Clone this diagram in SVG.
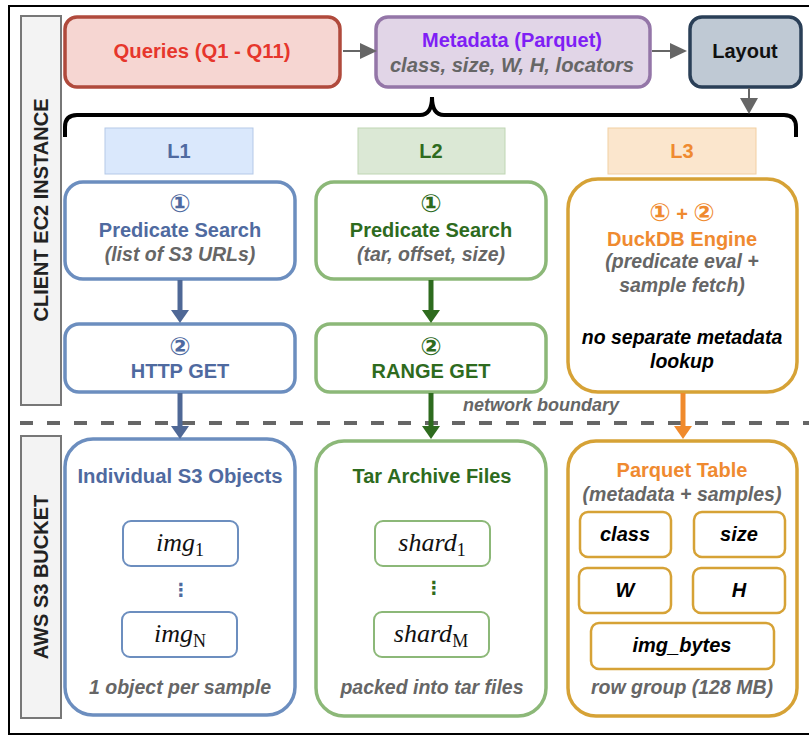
<svg xmlns="http://www.w3.org/2000/svg" width="809" height="735" viewBox="0 0 809 735">
<style>
text{font-family:"Liberation Sans",Arial,"DejaVu Sans",sans-serif;font-weight:bold;text-anchor:middle}
.it{font-style:italic}
.gray{fill:#666}
.blue{fill:#4f6aa0}
.green{fill:#2e6b1e}
.orange{fill:#ef8a30}
.num{font-family:"DejaVu Sans",sans-serif;font-size:25px;font-weight:bold}
.math{font-family:"Liberation Serif","DejaVu Serif",serif;font-weight:normal;font-style:italic;font-size:26px;fill:#111}
.sub{font-size:18px;font-style:normal}
.side{fill:#f3f3f3;stroke:#777;stroke-width:2}
.bl{fill:#fff;stroke:#6c8ebf;stroke-width:3.5}
.gr{fill:#fff;stroke:#8cb878;stroke-width:3.5}
.or{fill:#fff;stroke:#d6a236;stroke-width:3.5}
.blS{fill:#fff;stroke:#6c8ebf;stroke-width:2}
.grS{fill:#fff;stroke:#8cb878;stroke-width:2}
.orS{fill:#fff;stroke:#d6a236;stroke-width:2.5}
</style>
<rect x="9" y="6" width="820" height="728" fill="#fff" stroke="#000" stroke-width="2"/>

<g id="side-client">
<rect class="side" x="21" y="16" width="40" height="389"/>
<text transform="translate(48,210) rotate(-90)" font-size="20" fill="#222">CLIENT EC2 INSTANCE</text>
</g>
<g id="side-aws">
<rect class="side" x="21" y="436" width="40" height="282"/>
<text transform="translate(48,577) rotate(-90)" font-size="20" fill="#222">AWS S3 BUCKET</text>
</g>

<g id="queries">
<rect x="65" y="17" width="275" height="70" rx="12" fill="#f6d6d2" stroke="#b04a3c" stroke-width="3.5"/>
<text x="202" y="58" font-size="20.3" fill="#e6362c">Queries (Q1 - Q11)</text>
</g>
<g id="metadata">
<rect x="376" y="17" width="274" height="70" rx="12" fill="#e1d5e7" stroke="#9476a8" stroke-width="3.5"/>
<text x="512" y="47" font-size="20" fill="#7f1ff5">Metadata (Parquet)</text>
<text class="it gray" x="512" y="72" font-size="20.2">class, size, W, H, locators</text>
</g>
<g id="layout">
<rect x="690" y="17" width="111" height="70" rx="12" fill="#bfc9d4" stroke="#2a3f57" stroke-width="3.5"/>
<text x="745" y="58" font-size="20" fill="#111">Layout</text>
</g>

<g id="brace">
<path d="M65,137 V127 Q65,115 77,115 H420 Q432,115 432,97 Q432,115 444,115 H784 Q796,115 796,127 V137" fill="none" stroke="#000" stroke-width="4"/>
</g>

<g id="L1-label">
<rect x="105" y="128" width="148" height="46" fill="#dae8fc" stroke="#b5c9e8" stroke-width="1"/>
<text class="blue" x="179" y="158" font-size="20">L1</text>
</g>
<g id="L2-label">
<rect x="358" y="128" width="147" height="46" fill="#dbe8d5" stroke="#bfd6b3" stroke-width="1"/>
<text class="green" x="431" y="158" font-size="20">L2</text>
</g>
<g id="L3-label">
<rect x="608" y="128" width="148" height="46" fill="#fbe6cd" stroke="#f2cfa2" stroke-width="1"/>
<text class="orange" x="682" y="158" font-size="20">L3</text>
</g>

<g id="L1-search">
<rect class="bl" x="65" y="182" width="230" height="97" rx="18"/>
<text class="blue num" x="180" y="212">①</text>
<text class="blue" x="180" y="237" font-size="20">Predicate Search</text>
<text class="it gray" x="180" y="261" font-size="19.5">(list of S3 URLs)</text>
</g>
<g id="L1-get">
<rect class="bl" x="65" y="324" width="230" height="68" rx="14"/>
<text class="blue num" x="180" y="355">②</text>
<text class="blue" x="180" y="378" font-size="20">HTTP GET</text>
</g>
<g id="L2-search">
<rect class="gr" x="316" y="182" width="230" height="97" rx="18"/>
<text class="green num" x="431" y="212">①</text>
<text class="green" x="431" y="237" font-size="20">Predicate Search</text>
<text class="it gray" x="431" y="261" font-size="19.5">(tar, offset, size)</text>
</g>
<g id="L2-get">
<rect class="gr" x="316" y="324" width="230" height="68" rx="14"/>
<text class="green num" x="431" y="355">②</text>
<text class="green" x="431" y="378" font-size="20">RANGE GET</text>
</g>
<g id="L3-duckdb">
<rect class="or" x="568" y="179" width="229" height="213" rx="30"/>
<text class="orange" x="682" y="221" font-size="20"><tspan class="num">①</tspan> + <tspan class="num">②</tspan></text>
<text class="orange" x="682" y="246" font-size="20">DuckDB Engine</text>
<text class="it gray" x="682" y="268" font-size="19.5">(predicate eval +</text>
<text class="it gray" x="682" y="292" font-size="19.5">sample fetch)</text>
<text class="it" x="682" y="344" font-size="19.5" fill="#000">no separate metadata</text>
<text class="it" x="682" y="368" font-size="19.5" fill="#000">lookup</text>
</g>

<g id="network-boundary">
<line x1="20" y1="423" x2="809" y2="423" stroke="#666" stroke-width="4" stroke-dasharray="13 14"/>
<text class="it gray" x="541" y="411" font-size="18">network boundary</text>
</g>

<g id="L1-objects">
<rect class="bl" x="65" y="439" width="230" height="276" rx="28"/>
<text class="blue" x="180" y="483" font-size="20.3">Individual S3 Objects</text>
<rect class="blS" x="123" y="521" width="115" height="45" rx="8"/>
<text class="math" x="180" y="551">img<tspan class="sub" dy="5">1</tspan></text>
<text class="blue" x="181" y="596" font-size="18">⋮</text>
<rect class="blS" x="122" y="612" width="115" height="45" rx="8"/>
<text class="math" x="180" y="642">img<tspan class="sub" dy="5">N</tspan></text>
<text class="it gray" x="180" y="694" font-size="19.5">1 object per sample</text>
</g>
<g id="L2-tar">
<rect class="gr" x="316" y="441" width="230" height="275" rx="28"/>
<text class="green" x="432" y="483" font-size="20">Tar Archive Files</text>
<rect class="grS" x="375" y="521" width="115" height="45" rx="8"/>
<text class="math" x="432" y="551">shard<tspan class="sub" dy="5">1</tspan></text>
<text class="green" x="434" y="594" font-size="18">⋮</text>
<rect class="grS" x="374" y="612" width="115" height="45" rx="8"/>
<text class="math" x="431" y="642">shard<tspan class="sub" dy="5">M</tspan></text>
<text class="it gray" x="432" y="694" font-size="19.5">packed into tar files</text>
</g>
<g id="L3-parquet">
<rect class="or" x="568" y="441" width="229" height="275" rx="28"/>
<text class="orange" x="682" y="477" font-size="20">Parquet Table</text>
<text class="it gray" x="682" y="501" font-size="19.5">(metadata + samples)</text>
<rect class="orS" x="580" y="512" width="91" height="45" rx="8"/>
<text class="it" x="625" y="541" font-size="20" fill="#000">class</text>
<rect class="orS" x="694" y="512" width="91" height="45" rx="8"/>
<text class="it" x="739" y="541" font-size="20" fill="#000">size</text>
<rect class="orS" x="579" y="568" width="92" height="45" rx="8"/>
<text class="it" x="625" y="597" font-size="20" fill="#000">W</text>
<rect class="orS" x="693" y="568" width="92" height="45" rx="8"/>
<text class="it" x="739" y="597" font-size="20" fill="#000">H</text>
<rect class="orS" x="591" y="623" width="183" height="46" rx="8"/>
<text class="it" x="682" y="652" font-size="20" fill="#000">img_bytes</text>
<text class="it gray" x="682" y="694" font-size="19.5">row group (128 MB)</text>
</g>

<g id="connectors">
<line x1="343" y1="51" x2="362" y2="51" stroke="#666" stroke-width="2"/>
<polygon points="360,43 377,51 360,59" fill="#666"/>
<line x1="652" y1="51" x2="672" y2="51" stroke="#666" stroke-width="2"/>
<polygon points="670,43 687,51 670,59" fill="#666"/>
<line x1="749" y1="88" x2="749" y2="100" stroke="#666" stroke-width="2"/>
<polygon points="740,98 749,114 758,98" fill="#666"/>

<line x1="180" y1="280" x2="180" y2="312" stroke="#4f6896" stroke-width="5"/>
<polygon points="171,310 180,323 189,310" fill="#4f6896"/>
<line x1="431" y1="280" x2="431" y2="312" stroke="#2e6b1e" stroke-width="5"/>
<polygon points="422,310 431,323 440,310" fill="#2e6b1e"/>

<line x1="180" y1="393" x2="180" y2="428" stroke="#4f6896" stroke-width="5"/>
<polygon points="171,426 180,439 189,426" fill="#4f6896"/>
<line x1="431" y1="393" x2="431" y2="428" stroke="#2e6b1e" stroke-width="5"/>
<polygon points="422,426 431,439 440,426" fill="#2e6b1e"/>
<line x1="683" y1="393" x2="683" y2="428" stroke="#f08a2c" stroke-width="5"/>
<polygon points="674,426 683,439 692,426" fill="#f08a2c"/>
</g>
</svg>
